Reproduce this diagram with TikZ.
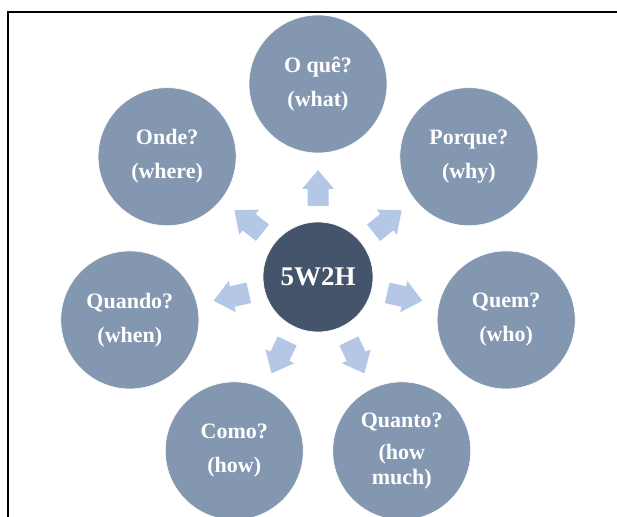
\documentclass[tikz,border=0pt]{standalone}
\usepackage{fontspec}
\setmainfont{Liberation Serif}
\definecolor{outerfill}{HTML}{8497B0}
\definecolor{centerfill}{HTML}{44546A}
\definecolor{arrowfill}{HTML}{B4C7E7}
\tikzset{
  outerc/.style={circle, fill=outerfill, draw=white, line width=0.6pt, minimum size=138pt, inner sep=0pt,
    text=white, align=center, font=\bfseries\fontsize{22}{25}\selectfont},
  centerc/.style={circle, fill=centerfill, draw=white, line width=0.6pt, minimum size=110pt, inner sep=0pt,
    text=white, font=\bfseries\fontsize{27}{30}\selectfont},
  blockarrow/.style={fill=arrowfill},
  framel/.style={line width=2pt, draw=black}
}
\begin{document}
\begin{tikzpicture}[x=1pt, y=1pt]
\useasboundingbox (0,0) rectangle (617,516);
\clip (0,0) rectangle (617,516);
\fill[white] (0,0) rectangle (617,516);
\coordinate (fbl) at (7.5,-2);
\coordinate (ftl) at (7.5,504);
\coordinate (ftr) at (619,504);
\draw[framel] (fbl) -- (ftl) -- (ftr);
\node[centerc] (c) at (318,239) {5W2H};
\path (c) ++(90:193) node[outerc] (what) {O quê?\\[9pt](what)};
\path (c) ++(38.571:193) node[outerc] (why) {Porque?\\[9pt](why)};
\path (c) ++(-12.857:193) node[outerc] (who) {Quem?\\[9pt](who)};
\path (c) ++(-64.286:193) node[outerc] (howmuch) {Quanto?\\[7pt](how\\much)};
\path (c) ++(-115.714:193) node[outerc] (how) {Como?\\[9pt](how)};
\path (c) ++(-167.143:193) node[outerc] (when) {Quando?\\[9pt](when)};
\path (c) ++(141.429:193) node[outerc] (where) {Onde?\\[9pt](where)};
\foreach \a in {90,38.571,-12.857,-64.286,-115.714,-167.143,141.429}{
  \fill[blockarrow, shift={(c)}, rotate=\a]
    (71,-10.5) -- (88,-10.5) -- (88,-16) -- (107,0) -- (88,16) -- (88,10.5) -- (71,10.5) -- cycle;
}
\end{tikzpicture}
\end{document}
